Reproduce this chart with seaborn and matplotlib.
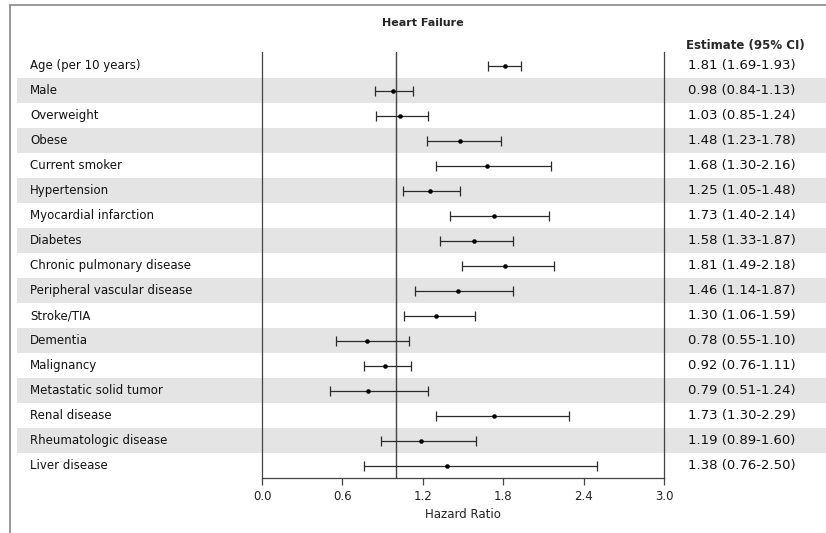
import matplotlib.pyplot as plt
import pandas as pd
import seaborn as sns
from matplotlib.lines import Line2D

variables = [
    'Age (per 10 years)', 'Male', 'Overweight', 'Obese', 'Current smoker',
    'Hypertension', 'Myocardial infarction', 'Diabetes', 'Chronic pulmonary disease',
    'Peripheral vascular disease', 'Stroke/TIA', 'Dementia', 'Malignancy',
    'Metastatic solid tumor', 'Renal disease', 'Rheumatologic disease', 'Liver disease',
]
hazard_ratio = [1.81, 0.98, 1.03, 1.48, 1.68, 1.25, 1.73, 1.58, 1.81, 1.46, 1.30, 0.78, 0.92, 0.79, 1.73, 1.19, 1.38]
ci_lower = [1.69, 0.84, 0.85, 1.23, 1.30, 1.05, 1.40, 1.33, 1.49, 1.14, 1.06, 0.55, 0.76, 0.51, 1.30, 0.89, 0.76]
ci_upper = [1.93, 1.13, 1.24, 1.78, 2.16, 1.48, 2.14, 1.87, 2.18, 1.87, 1.59, 1.10, 1.11, 1.24, 2.29, 1.60, 2.50]
x_ticks = [0.0, 0.6, 1.2, 1.8, 2.4, 3.0]

df = pd.DataFrame({'variable': variables, 'hr': hazard_ratio, 'lo': ci_lower, 'hi': ci_upper})
df['row'] = range(len(df))
df['label'] = [f'{h:.2f} ({l:.2f}-{u:.2f})' for h, l, u in zip(df.hr, df.lo, df.hi)]

sns.set_theme(style='white')
plt.rcParams['font.family'] = ['DejaVu Sans']

W, H = 826, 533
fig = plt.figure(figsize=(W / 100, H / 100), dpi=100)
ylim = (len(df) - 1 + 0.48, -0.56)
ax_bottom, ax_top = 478, 52
rect_y = 1 - ax_bottom / H
rect_h = (ax_bottom - ax_top) / H

# background axes: bands, labels, estimates
bg = fig.add_axes([0, rect_y, 1, rect_h])
bg.set_xlim(0, W)
bg.set_ylim(*ylim)
bg.axis('off')
for r in df.row[df.row % 2 == 1]:
    bg.axhspan(r - 0.5, r + 0.5, xmin=17 / W, xmax=1, color='#e4e4e4', lw=0, zorder=0)
for _, rec in df.iterrows():
    bg.text(30, rec.row, rec.variable, va='center', ha='left', fontsize=8.5, color='#111111')
    bg.text(742, rec.row, rec.label, va='center', ha='center', fontsize=9.5, color='#111111')

# forest plot axes
ax = fig.add_axes([262 / W, rect_y, (664 - 262) / W, rect_h])
ax.patch.set_alpha(0)
ax.errorbar(df.hr, df.row, xerr=[df.hr - df.lo, df.hi - df.hr], fmt='none',
            ecolor='#2a2a2a', elinewidth=0.9, capsize=3.5, capthick=0.9, zorder=3)
sns.scatterplot(data=df, x='hr', y='row', ax=ax, color='black', s=9, edgecolor='black', zorder=4)
ax.axvline(1.0, color='#444444', lw=1)
ax.set_xlim(0, 3)
ax.set_ylim(*ylim)
ax.set_xticks(x_ticks)
ax.set_xticklabels([f'{t:.1f}' for t in x_ticks], fontsize=8.5, color='#222222')
ax.set_yticks([])
ax.set_xlabel('Hazard Ratio', fontsize=8.5, color='#222222', labelpad=3)
ax.set_ylabel('')
ax.tick_params(axis='x', direction='out', length=5, width=0.9, color='#444444', pad=4, bottom=True)
ax.spines['top'].set_visible(False)
for s in ['left', 'right', 'bottom']:
    ax.spines[s].set_color('#444444')
    ax.spines[s].set_linewidth(0.9)

fig.text(423 / W, 1 - 23 / H, 'Heart Failure', ha='center', va='center', fontsize=8, fontweight='bold')
fig.text(745 / W, 1 - 46 / H, 'Estimate (95% CI)', ha='center', va='center', fontsize=8.5, fontweight='bold')

# outer frame
fig.add_artist(Line2D([10 / W, 1], [1 - 5 / H, 1 - 5 / H], color='#888888', lw=1.2))
fig.add_artist(Line2D([10 / W, 10 / W], [0, 1 - 5 / H], color='#888888', lw=1.2))

fig.savefig('out.png', dpi=100)
